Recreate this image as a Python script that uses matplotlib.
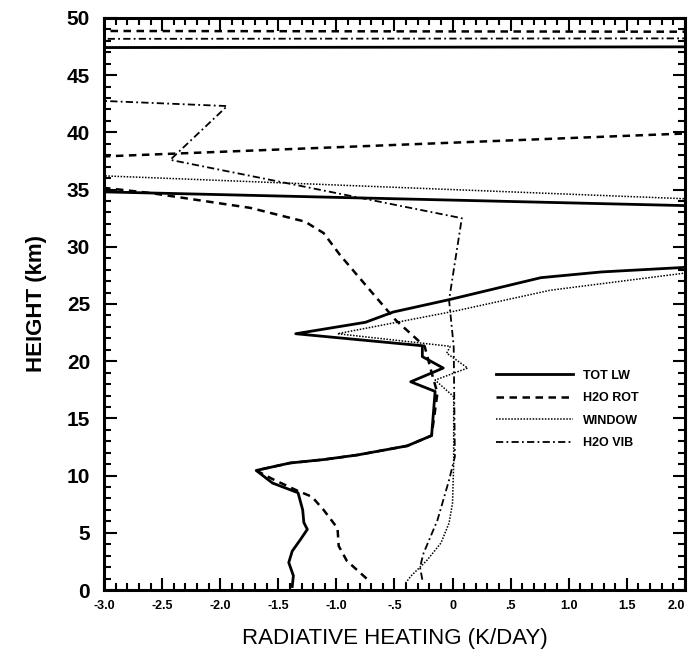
import numpy as np
import matplotlib
matplotlib.use("Agg")
from matplotlib import pyplot as plt
from matplotlib.ticker import MultipleLocator, FixedLocator

plt.rcParams['font.family'] = ['Liberation Sans Narrow', 'Liberation Sans', 'DejaVu Sans']

# heating rate profiles (K/day) against height (km)
tot_lw_h = [0.3, 1.25, 2.4, 3.4, 4.4, 5.3, 5.9, 7.0, 8.5, 9.35, 10.45,
            11.1, 11.4, 11.8, 12.6, 13.5, 17.36, 18.2, 19.4, 20.4, 21.35,
            22.4, 23.4, 24.3, 25.4, 27.3, 27.8, 28.2, 29.0, 33.0, 35.2,
            47.3, 47.6]
tot_lw_q = [-1.38, -1.37, -1.41, -1.38, -1.31, -1.25, -1.28, -1.29, -1.33, -1.55, -1.69,
            -1.40, -1.11, -0.82, -0.39, -0.18, -0.15, -0.36, -0.08, -0.26, -0.26,
            -1.35, -0.75, -0.51, -0.02, 0.76, 1.28, 2.0, 3.2, 4.5, -4.67,
            -12.0, 12.0]

h2o_rot_h = [1.0, 2.55, 3.85, 5.4, 7.0, 8.15, 8.7, 9.7, 10.45, 11.1, 11.4,
             11.8, 12.6, 13.5, 17.2, 19.0, 21.3, 23.6, 26.2, 29.3, 31.2,
             32.2, 33.4, 34.7, 35.6, 37.1, 41.5, 48.7, 48.95]
h2o_rot_q = [-0.74, -0.91, -0.98, -0.99, -1.11, -1.21, -1.34, -1.55, -1.69, -1.40, -1.11,
             -0.82, -0.39, -0.18, -0.13, -0.18, -0.24, -0.49, -0.71, -0.97, -1.11,
             -1.27, -1.74, -2.6, -3.4, -5.0, 6.0, 10.0, -10.0]

window_h = [0.6, 1.2, 2.6, 4.1, 5.85, 7.6, 11.1, 15.5, 16.9, 18.35, 19.4,
            20.7, 21.3, 22.4, 24.4, 26.2, 27.7, 28.5, 33.4, 37.0, 47.4, 47.55]
window_q = [-0.405, -0.36, -0.22, -0.10, -0.03, 0.0, 0.01, 0.01, 0.01, -0.15, 0.13,
            -0.05, -0.02, -0.99, 0.03, 0.84, 2.0, 3.0, 4.0, -5.0, -12.0, 12.0]

h2o_vib_h = [0.9, 2.0, 3.2, 6.1, 9.6, 11.65, 21.3, 25.35, 32.5, 37.6, 42.3,
             42.96, 48.1, 48.3]
h2o_vib_q = [-0.26, -0.28, -0.25, -0.13, -0.03, 0.02, 0.01, -0.03, 0.08, -2.43, -1.94,
             -3.5, -12.0, 12.0]

x_ticks = [-3.0, -2.5, -2.0, -1.5, -1.0, -0.5, 0.0, 0.5, 1.0, 1.5, 2.0]
x_tick_labels = ['-3.0', '-2.5', '-2.0', '-1.5', '-1.0', '-.5', '0', '.5', '1.0', '1.5', '2.0']

fig = plt.figure(figsize=(6.89, 6.56), dpi=100)
ax = fig.add_axes([0.151, 0.1006, 0.843, 0.872])

ax.plot(tot_lw_q, tot_lw_h, color='black', lw=2.0, ls='-', label='TOT LW')
ax.plot(h2o_rot_q, h2o_rot_h, color='black', lw=1.8, ls=(0, (3.0, 2.2)), label='H2O ROT')
ax.plot(window_q, window_h, color='black', lw=1.1, ls=(0, (1.0, 1.0)), label='WINDOW')
ax.plot(h2o_vib_q, h2o_vib_h, color='black', lw=1.3, ls=(0, (4.0, 1.8, 1.0, 1.8)), label='H2O VIB')

ax.set_xlim(-3, 2)
ax.set_ylim(0, 50)

ax.xaxis.set_major_locator(FixedLocator(x_ticks))
ax.set_xticklabels(x_tick_labels, fontsize=9, fontweight='bold')
ax.get_xticklabels()[-1].set_horizontalalignment('right')
ax.xaxis.set_minor_locator(MultipleLocator(0.1))
ax.yaxis.set_major_locator(MultipleLocator(5))
ax.yaxis.set_minor_locator(MultipleLocator(1))
for lab in ax.get_yticklabels():
    lab.set_fontsize(15)
    lab.set_fontweight('bold')

ax.tick_params(which='both', direction='in', top=True, right=True, width=1.5)
ax.tick_params(which='major', length=9)
ax.tick_params(which='minor', length=5)
ax.tick_params(axis='x', pad=7)
ax.tick_params(axis='y', pad=10)
for s in ax.spines.values():
    s.set_linewidth(2.2)

ax.set_xlabel('RADIATIVE HEATING (K/DAY)', fontsize=16, labelpad=12)
ax.set_ylabel('HEIGHT (km)', fontsize=16, fontweight='bold', labelpad=14)

leg = ax.legend(loc='upper left', bbox_to_anchor=(0.655, 0.405), frameon=False,
                handlelength=6.2, fontsize=9, labelspacing=0.85, handletextpad=0.8)
for t in leg.get_texts():
    t.set_fontweight('bold')

fig.savefig('out.png', dpi=100)
